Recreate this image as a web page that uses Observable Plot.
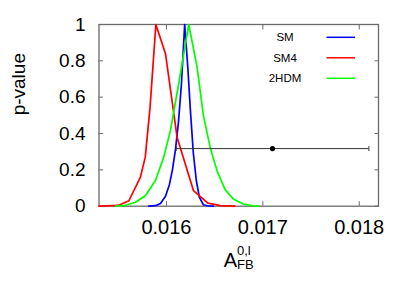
<!DOCTYPE html>
<html><head><meta charset="utf-8">
<script src="https://cdn.jsdelivr.net/npm/d3@7"></script>
<script src="https://cdn.jsdelivr.net/npm/@observablehq/plot@0.6"></script>
<style>body{margin:0;background:#fff}</style>
</head><body><div id="chart"></div>
<script>
// ---- data ----
const xTicks = [0.016, 0.017, 0.018];
const xTickLabels = ["0.016", "0.017", "0.018"];
const yTicks = [0, 0.2, 0.4, 0.6, 0.8, 1];
const yTickLabels = ["0", "0.2", "0.4", "0.6", "0.8", "1"];

const seriesNames = ["SM", "SM4", "2HDM"];
const seriesColors = ["#0000ff", "#ff0000", "#00ff00"];

// SM (blue)
const smX = [0.015817, 0.015886, 0.015938, 0.01599, 0.016031, 0.016062, 0.016093, 0.016124, 0.016155, 0.016189,
             0.016222, 0.016248, 0.016279, 0.01631, 0.016341, 0.016383, 0.016435, 0.016486];
const smP = [0, 0.003, 0.015, 0.055, 0.12, 0.2, 0.31, 0.46, 0.67, 1.0,
             0.76, 0.53, 0.29, 0.14, 0.05, 0.008, 0.001, 0];

// SM4 (red)
const sm4X = [0.0153, 0.0155, 0.01561, 0.01573, 0.01578, 0.01583, 0.01589, 0.01599, 0.01611, 0.01628, 0.01643, 0.01656, 0.01671];
const sm4P = [0, 0.004, 0.03, 0.16, 0.27, 0.545, 1.0, 0.839, 0.38, 0.086, 0.017, 0.003, 0];

// 2HDM (green)
const thdmX = [0.015472, 0.015576, 0.015679, 0.015783, 0.015886, 0.015972, 0.016041, 0.016127, 0.016231,
               0.016318, 0.016383, 0.016455, 0.016528, 0.01661, 0.016693, 0.016796, 0.0169, 0.016952];
const thdmP = [0, 0.005, 0.022, 0.059, 0.141, 0.27, 0.417, 0.674, 1.0,
               0.765, 0.5, 0.32, 0.19, 0.09, 0.04, 0.012, 0.002, 0];

// measurement with error bar
const measX = [0.0171];
const measLo = [0.0161];
const measHi = [0.0181];
const measP = [0.317];

// ---- build tables ----
const seriesXs = [smX, sm4X, thdmX];
const seriesPs = [smP, sm4P, thdmP];
const rows = seriesNames.flatMap((name, i) => seriesXs[i].map((x, j) => ({series: name, x, p: seriesPs[i][j]})));
const meas = measX.map((x, i) => ({x, lo: measLo[i], hi: measHi[i], p: measP[i]}));
const caps = meas.flatMap(m => [{x: m.lo, p: m.p}, {x: m.hi, p: m.p}]);
const xLabelRows = xTicks.map((x, i) => ({x, label: xTickLabels[i]}));

const labelFor = (ticks, labels) => d => {
  let best = 0;
  ticks.forEach((t, i) => { if (Math.abs(t - d) < Math.abs(ticks[best] - d)) best = i; });
  return labels[best];
};

const vbar = {draw(ctx, size) { const h = Math.sqrt(size / Math.PI); ctx.moveTo(0, -h); ctx.lineTo(0, h); }};

const FONT = "Liberation Sans, Arial, Helvetica, sans-serif";
const frameColor = "#6a6a6a";

function legendMark(index, scales, values, dims) {
  const g = d3.create("svg:g").attr("font-family", FONT).attr("font-size", 11.5).attr("fill", "black");
  const x0 = dims.width - dims.marginRight;
  seriesNames.forEach((name, i) => {
    const y = dims.marginTop + 13.3 + i * 20.5;
    g.append("text").attr("x", x0 - 93).attr("y", y).attr("dy", "0.35em").text(name);
    g.append("line").attr("x1", x0 - 51.5).attr("x2", x0 - 23).attr("y1", y).attr("y2", y)
      .attr("stroke", seriesColors[i]).attr("stroke-width", 1.5);
  });
  return g.node();
}

const chart = Plot.plot({
  width: 415,
  height: 291,
  marginLeft: 98.5,
  marginRight: 37,
  marginTop: 24,
  marginBottom: 85.3,
  style: {fontFamily: FONT, color: "black", background: "white", overflow: "visible"},
  x: {domain: [0.0153, 0.0182]},
  y: {domain: [0, 1]},
  color: {domain: seriesNames, range: seriesColors},
  marks: [
    Plot.frame({stroke: frameColor, strokeWidth: 1.3}),
    Plot.axisX({anchor: "bottom", ticks: xTicks, tickSize: -4.5, tickFormat: () => "", label: null, stroke: frameColor}),
    Plot.axisX({anchor: "top", ticks: xTicks, tickSize: -4.5, tickFormat: () => "", label: null, stroke: frameColor}),
    Plot.axisY({anchor: "left", ticks: yTicks, tickSize: -4.5, tickFormat: () => "", label: null, stroke: frameColor}),
    Plot.axisY({anchor: "right", ticks: yTicks, tickSize: -4.5, tickFormat: () => "", label: null, stroke: frameColor}),
    Plot.text(xLabelRows, {x: "x", text: "label", frameAnchor: "bottom", lineAnchor: "top", dy: 13.3, fontSize: 20, fill: "black"}),
    Plot.axisY({anchor: "left", ticks: yTicks, tickSize: 0, tickPadding: 13.5, fontSize: 19,
                tickFormat: labelFor(yTicks, yTickLabels), label: null}),
    Plot.line(rows, {x: "x", y: "p", z: "series", stroke: "series", strokeWidth: 1.7}),
    Plot.ruleY(meas, {y: "p", x1: "lo", x2: "hi", stroke: "#333", strokeWidth: 1}),
    Plot.dot(caps, {x: "x", y: "p", symbol: vbar, r: 2.4, stroke: "#333", strokeWidth: 1}),
    Plot.dot(meas, {x: "x", y: "p", r: 2.6, fill: "black", stroke: "none"}),
    legendMark,
    Plot.text(["p-value"], {text: d => d, frameAnchor: "left", dx: -80.5, rotate: -90, fontSize: 19}),
    Plot.text(["A"], {text: d => d, frameAnchor: "bottom", textAnchor: "start", lineAnchor: "bottom", dx: -15, dy: 60.3, fontSize: 20}),
    Plot.text(["0,l"], {text: d => d, frameAnchor: "bottom", textAnchor: "start", lineAnchor: "bottom", dx: -1.8, dy: 48.3, fontSize: 13}),
    Plot.text(["FB"], {text: d => d, frameAnchor: "bottom", textAnchor: "start", lineAnchor: "bottom", dx: -1.8, dy: 62.8, fontSize: 13})
  ]
});
document.getElementById("chart").appendChild(chart);
</script>
</body></html>
